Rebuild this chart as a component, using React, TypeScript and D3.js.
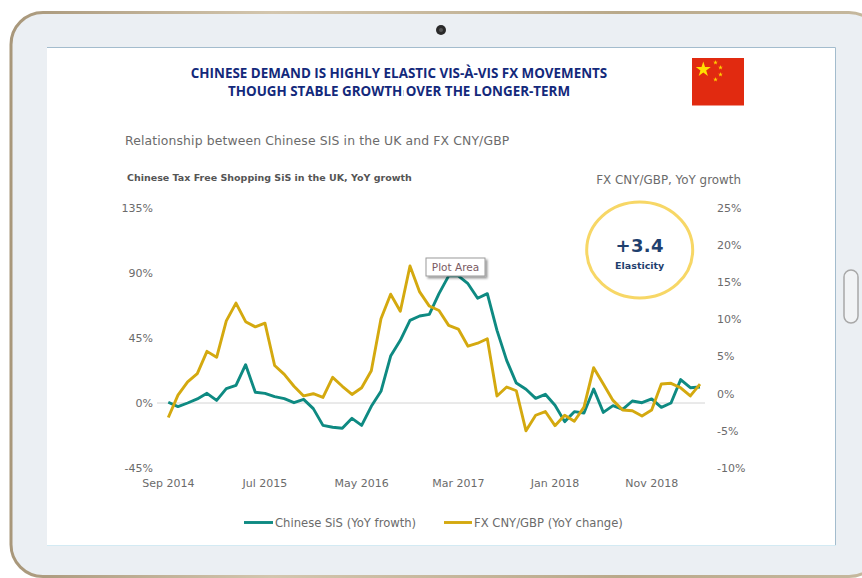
import React from "react";
import * as d3 from "d3";

// Year-on-year growth of tax free spend, one value per month from Sep 2014, in %
const sisGrowth = [
  0.5, -2.5, 0, 2.8, 6.7, 1.8, 9.9, 12.2, 26.5, 7.4, 6.7, 4.4, 3.0, 0.2,
  2.5, -3.9, -15.5, -16.8, -17.5, -10.6, -15.5, -2.3, 8.1, 32.5, 43.4, 57.2,
  60.2, 61.4, 75.7, 88, 88, 82.6, 72.5, 75.7, 50.3, 29.5, 13.8, 9.5, 3.2, 6.0,
  -1.6, -12.9, -6.0, -6.9, 9.7, -6.5, -1.8, -4.4, 1.4, 0.2, 2.8, -3.0, 0, 16.2,
  10.6, 11.1,
];

// Year-on-year change of CNY/GBP over the same months, in %
const fxChange = [
  -3.2, -0.2, 1.6, 2.7, 5.7, 4.9, 9.8, 12.2, 9.7, 9.0, 9.5, 3.8, 2.6, 1.0,
  -0.3, 0.0, -0.5, 2.2, 1.0, -0.1, 0.8, 3.1, 10.1, 13.4, 11.1, 17.2, 13.7, 11.8,
  11.2, 9.2, 8.7, 6.4, 6.8, 7.4, -0.3, 0.9, 0.4, -5.0, -2.9, -2.4, -4.3, -2.9,
  -3.7, -1.8, 3.5, 1.3, -0.9, -2.2, -2.3, -3.0, -2.2, 1.3, 1.4, 0.8, -0.3, 1.3,
];

const leftTicks = [135, 90, 45, 0, -45];
const rightTicks = [25, 20, 15, 10, 5, 0, -5, -10];
const monthTickIndex = [0, 10, 20, 30, 40, 50];
const monthTickLabels = ["Sep 2014", "Jul 2015", "May 2016", "Mar 2017", "Jan 2018", "Nov 2018"];
const titleLines = [
  "CHINESE DEMAND IS HIGHLY ELASTIC VIS-À-VIS FX MOVEMENTS",
  "THOUGH STABLE GROWTH OVER THE LONGER-TERM",
];

const TEAL = "#0E8A82";
const GOLD = "#D4A90F";
const GREY = "#6b6b6b";
const FONT = "'DejaVu Sans', sans-serif";
const TITLE_FONT = "'Open Sans', sans-serif";

const x = d3.scaleLinear().domain([0, 55]).range([168.3, 700]);
const yLeft = d3.scaleLinear().domain([-45, 135]).range([468, 208]);
const yRight = d3.scaleLinear().domain([-10, 25]).range([468, 208]);

const sisLine = d3.line<number>().x((_, i) => x(i)).y((d) => yLeft(d));
const fxLine = d3.line<number>().x((_, i) => x(i)).y((d) => yRight(d));

const bigStar = d3.symbol(d3.symbolStar, 70)();
const smallStar = d3.symbol(d3.symbolStar, 7)();
const smallStars = [
  [715.5, 62.5],
  [720.5, 67.5],
  [720.5, 74.5],
  [715.5, 79.5],
];

export default function App() {
  return (
    <svg
      width={862}
      height={578}
      viewBox="0 0 862 578"
      style={{ position: "absolute", left: 0, top: 0, display: "block" }}
    >
      <defs>
        <linearGradient id="rim" x1="0" y1="0" x2="1" y2="0">
          <stop offset="0" stopColor="#a8977a" />
          <stop offset="0.3" stopColor="#d3c6ae" />
          <stop offset="0.7" stopColor="#b9a98a" />
          <stop offset="1" stopColor="#c6b99f" />
        </linearGradient>
        <filter id="tipShadow" x="-20%" y="-30%" width="150%" height="170%">
          <feDropShadow dx="2" dy="2" stdDeviation="1.2" floodColor="#000" floodOpacity="0.4" />
        </filter>
      </defs>

      {/* Tablet body */}
      <rect width={862} height={578} fill="#fff" />
      <rect x={11} y={12.5} width={870} height={564} rx={32} fill="#ebeff3" stroke="url(#rim)" strokeWidth={3} />
      <circle cx={441} cy={30} r={5} fill="#2a2a2a" />
      <circle cx={441} cy={30} r={2} fill="#555" />
      <rect x={844} y={270} width={14} height={53} rx={7} fill="#f1f3f5" stroke="#a8a8a8" strokeWidth={1.5} />

      {/* Screen */}
      <rect x={47} y={47.5} width={789} height={498} fill="#fff" />
      <path d="M47 47.5H835.5V545" fill="none" stroke="#a3bccd" strokeWidth={1} />
      <path d="M47 545.5H836" fill="none" stroke="#d3eaf3" strokeWidth={1} />

      {/* Headline and flag */}
      <g fontFamily={TITLE_FONT} fontWeight={700} fontSize={13.4} fill="#13297B" textAnchor="middle">
        {titleLines.map((line, i) => (
          <text key={line} x={399} y={77.5 + i * 18.5}>{line}</text>
        ))}
      </g>
      <line x1={403.5} x2={403.5} y1={90} y2={96} stroke="#b8c0d0" strokeWidth={0.8} />
      <rect x={692} y={58} width={52} height={47.5} fill="#E12A10" />
      <path d={bigStar!} transform="translate(703.3 69.5)" fill="#FFE000" />
      {smallStars.map(([sx, sy]) => (
        <path key={`${sx}-${sy}`} d={smallStar!} transform={`translate(${sx} ${sy})`} fill="#FFD000" />
      ))}

      {/* Chart headings */}
      <text x={125} y={145} fontFamily={FONT} fontSize={12.4} fill={GREY} letterSpacing={0.13}>
        Relationship between Chinese SIS in the UK and FX CNY/GBP
      </text>
      <text x={127} y={181} fontFamily={FONT} fontSize={9.5} fontWeight={700} fill="#555">
        Chinese Tax Free Shopping SiS in the UK, YoY growth
      </text>
      <text x={741} y={184} textAnchor="end" fontFamily={FONT} fontSize={11.9} fill={GREY}>
        FX CNY/GBP, YoY growth
      </text>

      {/* Axes */}
      <line x1={157} x2={705} y1={yLeft(0)} y2={yLeft(0)} stroke="#d4d4d4" strokeWidth={1} />
      <g fontFamily={FONT} fontSize={11} fill={GREY}>
        {leftTicks.map((t) => (
          <text key={t} x={153} y={yLeft(t)} dy="0.35em" textAnchor="end">{`${t}%`}</text>
        ))}
        {rightTicks.map((t) => (
          <text key={t} x={717} y={yRight(t)} dy="0.35em">{`${t}%`}</text>
        ))}
        {monthTickIndex.map((idx, i) => (
          <text key={idx} x={x(idx)} y={483} dy="0.35em" textAnchor="middle">{monthTickLabels[i]}</text>
        ))}
      </g>

      {/* Series */}
      <path d={sisLine(sisGrowth)!} fill="none" stroke={TEAL} strokeWidth={2.9} strokeLinejoin="round" />
      <path d={fxLine(fxChange)!} fill="none" stroke={GOLD} strokeWidth={2.9} strokeLinejoin="round" />

      {/* Hover label left on the plot */}
      <rect x={426} y={258} width={59} height={18} fill="#fff" stroke="#9a9a9a" strokeWidth={1} filter="url(#tipShadow)" />
      <text x={455.5} y={267} dy="0.35em" textAnchor="middle" fontFamily={FONT} fontSize={10.5} fill="#7a5a62">
        Plot Area
      </text>

      {/* Elasticity callout */}
      <ellipse cx={639.7} cy={250} rx={53} ry={48} fill="#fff" stroke="#F7D766" strokeWidth={3} />
      <text x={639.7} y={252} textAnchor="middle" fontFamily={FONT} fontWeight={700} fontSize={18} letterSpacing={0.4} fill="#1F3F6E">
        +3.4
      </text>
      <text x={639.7} y={269} textAnchor="middle" fontFamily={FONT} fontWeight={700} fontSize={9.5} fill="#1F3F6E">
        Elasticity
      </text>

      {/* Legend */}
      <line x1={244} x2={273} y1={522.5} y2={522.5} stroke={TEAL} strokeWidth={2.9} />
      <text x={275} y={522.5} dy="0.35em" fontFamily={FONT} fontSize={11.6} fill={GREY}>
        Chinese SiS (YoY frowth)
      </text>
      <line x1={444} x2={472} y1={522.5} y2={522.5} stroke={GOLD} strokeWidth={2.9} />
      <text x={474} y={522.5} dy="0.35em" fontFamily={FONT} fontSize={11.6} fill={GREY}>
        FX CNY/GBP (YoY change)
      </text>
    </svg>
  );
}
